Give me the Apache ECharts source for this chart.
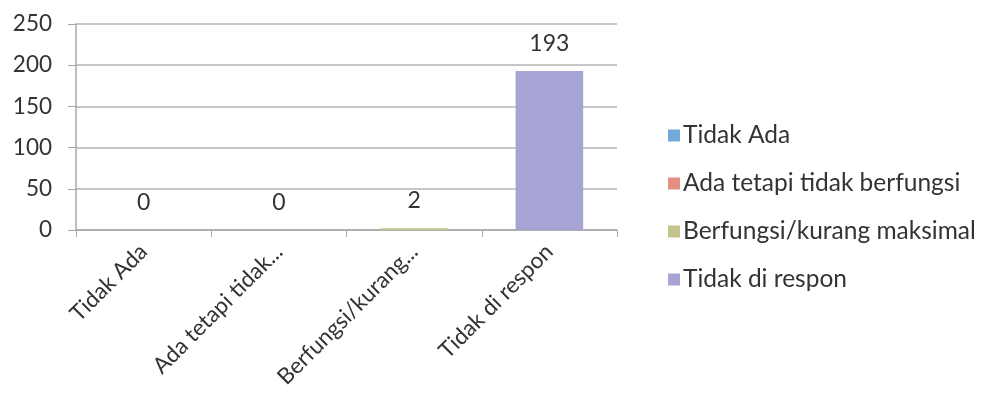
<!DOCTYPE html>
<html>
<head>
<meta charset="utf-8">
<script src="https://cdn.jsdelivr.net/npm/echarts@6/dist/echarts.min.js"></script>
<style>
  html, body { margin: 0; padding: 0; background: #ffffff; }
  #chart { width: 988px; height: 394px; }
</style>
</head>
<body>
<div id="chart"></div>
<script>
// Response categories (full names for the legend, shortened for the axis)
const seriesNames = ['Tidak Ada', 'Ada tetapi tidak berfungsi', 'Berfungsi/kurang maksimal', 'Tidak di respon'];
const axisLabels = ['Tidak Ada', 'Ada tetapi tidak...', 'Berfungsi/kurang...', 'Tidak di respon'];
const counts = [0, 0, 2, 193];
const yTicks = [0, 50, 100, 150, 200, 250];
const colors = ['#74a9dc', '#e2907f', '#c2c48c', '#a6a3d5'];

const FONT = 'Lato, "Open Sans", sans-serif';
const TEXT = '#333333';

// One series per category, all on one stack so each bar sits centred in its slot
const series = seriesNames.map((name, i) => ({
  name: name,
  type: 'bar',
  stack: 'total',
  barWidth: '50%',
  itemStyle: { color: colors[i] },
  data: counts.map((v, j) => (j === i ? v : '-')),
  label: {
    show: true,
    position: 'top',
    distance: 16,
    color: TEXT,
    fontFamily: FONT,
    fontSize: 23
  }
}));

const chart = echarts.init(document.getElementById('chart'));
chart.setOption({
  animation: false,
  color: colors,
  grid: { left: 76, right: 371, top: 24, bottom: 164 },
  legend: {
    orient: 'vertical',
    left: 663,
    top: 118,
    itemWidth: 12,
    itemHeight: 12,
    itemGap: 23,
    icon: 'rect',
    data: seriesNames,
    textStyle: { color: TEXT, fontFamily: FONT, fontSize: 24.5, padding: [0, 0, 0, -2] }
  },
  xAxis: {
    type: 'category',
    data: axisLabels,
    axisLine: { lineStyle: { color: '#a8a8a8', width: 1.5 } },
    axisTick: { show: true, length: 7, lineStyle: { color: '#a8a8a8' } },
    axisLabel: {
      rotate: 45,
      margin: 18,
      interval: 0,
      color: TEXT,
      fontFamily: FONT,
      fontSize: 22.5
    }
  },
  yAxis: {
    type: 'value',
    min: yTicks[0],
    max: yTicks[yTicks.length - 1],
    interval: yTicks[1] - yTicks[0],
    axisLine: { show: true, lineStyle: { color: '#a8a8a8', width: 1.5 } },
    axisTick: { show: true, length: 8, lineStyle: { color: '#a8a8a8' } },
    splitLine: { lineStyle: { color: '#b4b4b4', width: 1.5 } },
    axisLabel: {
      margin: 24,
      color: TEXT,
      fontFamily: FONT,
      fontSize: 22.5
    }
  },
  series: series
});
</script>
</body>
</html>
